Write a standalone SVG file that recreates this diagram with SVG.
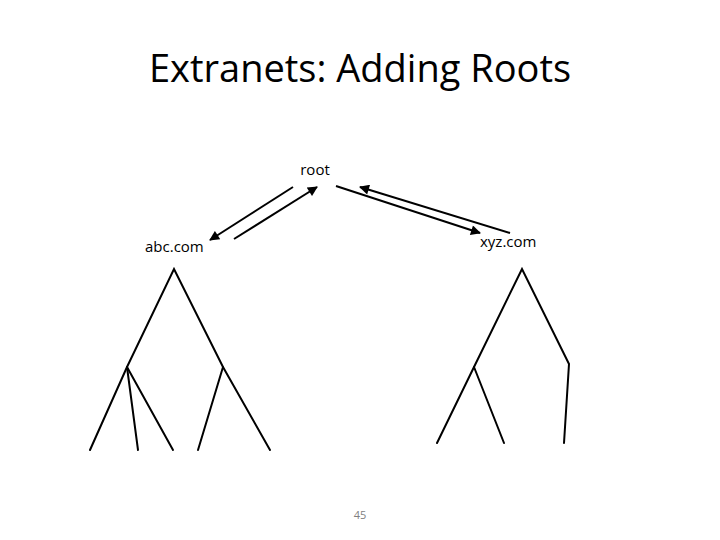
<svg xmlns="http://www.w3.org/2000/svg" width="720" height="540" viewBox="0 0 720 540">
<style>
  .t { font-family: "Open Sans", "Liberation Sans", sans-serif; fill: #000; }
  .lbl { font-size: 15px; }
  .tree line, .tree polyline { stroke: #000; stroke-width: 2; fill: none; stroke-linecap: round; }
  .conn line { stroke: #000; stroke-width: 2; marker-end: url(#ah); }
</style>
<defs>
  <marker id="ah" viewBox="0 0 10 10" refX="9" refY="5" markerWidth="6" markerHeight="5" orient="auto" markerUnits="strokeWidth">
    <path d="M0,0 L10,5 L0,10 z" fill="#000"/>
  </marker>
</defs>
<rect width="720" height="540" fill="#fff"/>
<text class="t" x="360" y="82" font-size="38" text-anchor="middle">Extranets: Adding Roots</text>

<g id="root"><text class="t lbl" x="315" y="175" text-anchor="middle">root</text></g>
<g id="abc"><text class="t lbl" x="145" y="252">abc.com</text></g>
<g id="xyz"><text class="t lbl" x="480" y="247">xyz.com</text></g>

<g id="connectors" class="conn">
  <line x1="293" y1="187" x2="210" y2="240"/>
  <line x1="234" y1="239" x2="317" y2="187"/>
  <line x1="336" y1="186" x2="480" y2="233"/>
  <line x1="510" y1="233" x2="360" y2="187"/>
</g>

<g id="tree-abc" class="tree">
  <polyline points="90,450 127,367 174,269 223,367 270,450"/>
  <line x1="127" y1="367" x2="138" y2="450"/>
  <line x1="127" y1="367" x2="173" y2="450"/>
  <line x1="223" y1="367" x2="198" y2="450"/>
</g>

<g id="tree-xyz" class="tree">
  <polyline points="437,443 474,367 522,269 569,364 564,443"/>
  <line x1="474" y1="367" x2="504" y2="443"/>
</g>

<g id="page"><text class="t" x="360" y="519" font-size="11" style="fill:#7f7f7f" text-anchor="middle">45</text></g>
</svg>
